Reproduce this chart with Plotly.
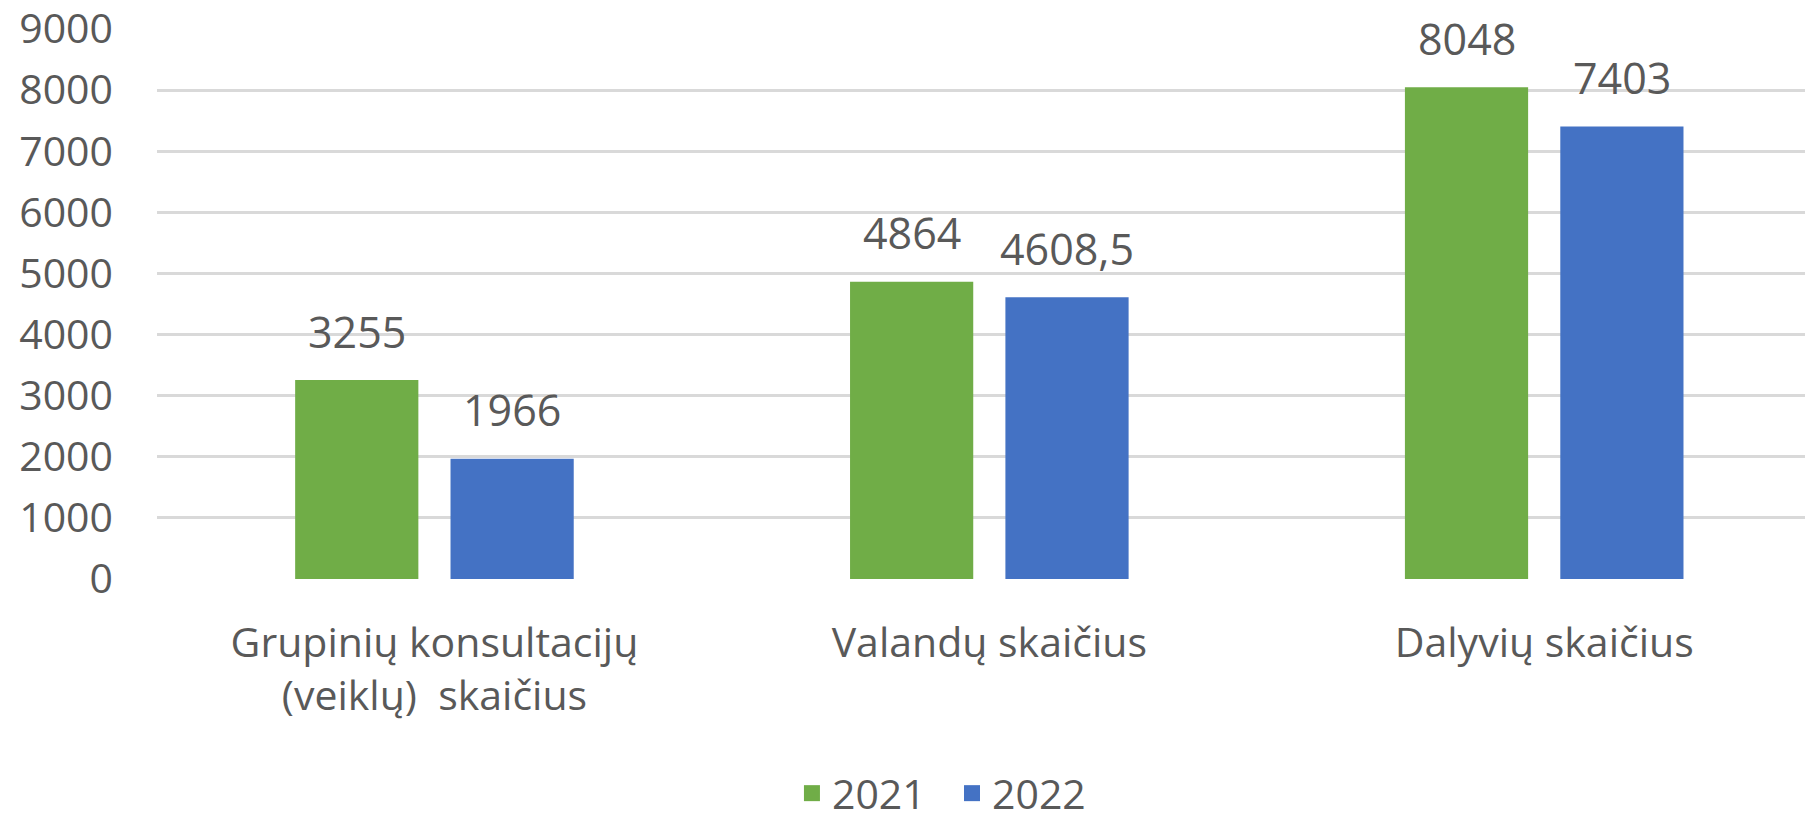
import plotly.graph_objects as go

categories = ["Grupinių konsultacijų<br>(veiklų)\u00a0\u00a0skaičius", "Valandų skaičius", "Dalyvių skaičius"]
series_names = ["2021", "2022"]
values_2021 = [3255, 4864, 8048]
values_2022 = [1966, 4608.5, 7403]
colors = ["#70AD47", "#4472C4"]
y_ticks = [0, 1000, 2000, 3000, 4000, 5000, 6000, 7000, 8000, 9000]

FONT = "Open Sans"
TXT = "#595959"
FS_NUM = 43
FS_TICK = 41
FS_CAT = 41
FS_LEG = 41

def fmt(v):
    if float(v).is_integer():
        return str(int(v))
    return str(v).replace(".", ",")

fig = go.Figure()
for name, vals, col in zip(series_names, [values_2021, values_2022], colors):
    fig.add_trace(go.Bar(
        name=name, x=list(range(len(categories))), y=vals,
        marker=dict(color=col, line=dict(width=0)), showlegend=False,
    ))
# legend entries with larger square swatches (no drawn marks)
for k, (name, col) in enumerate(zip(series_names, colors)):
    label = name + ("\u00a0\u00a0" if k == 0 else "")
    fig.add_trace(go.Scatter(
        name=label, x=[None], y=[None], mode="markers",
        marker=dict(symbol="square", size=26, color=col), showlegend=True,
    ))

bargap = 0.44
bargroupgap = 0.207
slot = (1 - bargap) / 2
annotations = []
for si, vals in enumerate([values_2021, values_2022]):
    off = (si - 0.5) * slot
    for i, v in enumerate(vals):
        annotations.append(dict(
            x=i + off, y=v, xref="x", yref="y", text=fmt(v), showarrow=False,
            yanchor="middle", yshift=49,
            font=dict(family=FONT, size=FS_NUM, color=TXT)))

fig.update_layout(
    width=1805, height=822,
    margin=dict(l=157, r=0, t=29, b=243, autoexpand=False),
    paper_bgcolor="white", plot_bgcolor="white",
    barmode="group", bargap=bargap, bargroupgap=bargroupgap,
    font=dict(family=FONT, size=FS_NUM, color=TXT),
    annotations=annotations,
    showlegend=True,
    legend=dict(orientation="h", x=0.476, xanchor="center", y=-0.39, yanchor="middle",
                font=dict(family=FONT, size=FS_LEG, color=TXT), itemwidth=30,
                itemsizing="trace", traceorder="normal"),
    xaxis=dict(
        tickmode="array", tickvals=list(range(len(categories))), ticktext=categories,
        range=[-0.5, 2.47], showgrid=False, zeroline=False, showline=False,
        ticks="", ticklabelstandoff=36, automargin=False,
        tickfont=dict(family=FONT, size=FS_CAT, color=TXT),
    ),
    yaxis=dict(
        range=[0, 9000], tickvals=y_ticks, showgrid=True, gridcolor="#D9D9D9",
        gridwidth=3, zeroline=False, showline=False, ticks="", automargin=False,
        ticklabeloverflow="allow",
        ticklabelstandoff=43, tickfont=dict(family=FONT, size=FS_TICK, color=TXT),
    ),
)

fig.write_html(
    "out.html",
    config={"displayModeBar": False},
    post_script="document.body.style.margin='0';document.body.style.overflow='hidden';",
)
